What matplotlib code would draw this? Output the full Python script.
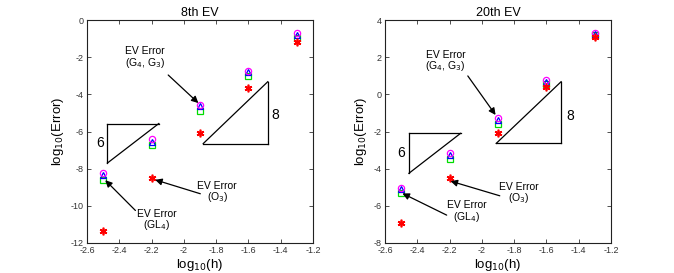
"""
Plot of eigenvalue error convergence (8th and 20th EV), log-log style.
"""

import matplotlib

matplotlib.use("Agg")
import matplotlib.pyplot as plt

plt.rcParams["font.family"] = ["Liberation Sans", "DejaVu Sans"]

# shared mesh sizes
LOG_H = [-2.5, -2.2, -1.9, -1.6, -1.3]

# 8th EV errors
EV8_CIRCLE = [-8.22, -6.40, -4.55, -2.72, -0.70]
EV8_TRIANGLE = [-8.35, -6.55, -4.65, -2.82, -0.80]
EV8_SQUARE = [-8.60, -6.73, -4.89, -3.00, -0.97]
EV8_STAR = [-11.35, -8.52, -6.08, -3.64, -1.21]

# 20th EV errors
EV20_CIRCLE = [-5.03, -3.17, -1.29, 0.77, 3.28]
EV20_TRIANGLE = [-5.10, -3.27, -1.40, 0.68, 3.22]
EV20_SQUARE = [-5.30, -3.50, -1.60, 0.56, 3.18]
EV20_STAR = [-6.94, -4.49, -2.07, 0.38, 3.10]

X_TICKS = [-2.6, -2.4, -2.2, -2.0, -1.8, -1.6, -1.4, -1.2]
X_TICK_LABELS = ["-2.6", "-2.4", "-2.2", "-2", "-1.8", "-1.6", "-1.4", "-1.2"]


def style_axes(ax, ylim, yticks):
    ax.set_xlim(-2.6, -1.2)
    ax.set_ylim(*ylim)
    ax.set_xticks(X_TICKS)
    ax.set_xticklabels(X_TICK_LABELS)
    ax.set_yticks(yticks)
    ax.set_yticklabels([str(t) for t in yticks])
    ax.tick_params(direction="in", length=3, width=0.6, labelsize=6.5,
                   top=True, right=True, colors="#333333", pad=2.5)
    for sp in ax.spines.values():
        sp.set_linewidth(0.8)
        sp.set_color("#222222")
    ax.set_xlabel("log$_{10}$(h)", fontsize=9.5, labelpad=1)
    ax.set_ylabel("log$_{10}$(Error)", fontsize=9.5, labelpad=3)


def draw_points(ax, circ, tri, sq, star):
    ms = 4
    ax.plot(LOG_H, sq, ls="none", marker="s", ms=ms, mfc="none", mec="#00dd00", mew=0.9)
    ax.plot(LOG_H, tri, ls="none", marker="^", ms=ms, mfc="none", mec="blue", mew=0.9)
    ax.plot(LOG_H, circ, ls="none", marker="o", ms=ms + 0.5, mfc="none", mec="magenta", mew=0.9)
    ax.plot(LOG_H, star, ls="none", marker=(6, 2, 0), ms=5.5, mec="red", mew=1.2)


def draw_triangle(ax, x0, x1, y_low, y_high, small):
    kw = dict(color="black", lw=0.9)
    if small:
        # vertical at left, horizontal on top
        ax.plot([x0, x0], [y_low, y_high], **kw)
        ax.plot([x0, x1], [y_high, y_high], **kw)
        ax.plot([x0, x1], [y_low, y_high], **kw)
    else:
        # horizontal at bottom, vertical at right
        ax.plot([x0, x1], [y_low, y_low], **kw)
        ax.plot([x1, x1], [y_low, y_high], **kw)
        ax.plot([x0, x1], [y_low, y_high], **kw)


def annotate(ax, text, xy, xytext, text_pos):
    ax.annotate("", xy=xy, xytext=xytext,
                arrowprops=dict(arrowstyle="-|>", color="black", lw=0.9,
                                mutation_scale=10, shrinkA=0, shrinkB=0))
    ax.text(text_pos[0], text_pos[1], text, fontsize=7.5, ha="center", va="center",
            linespacing=0.95)


fig = plt.figure(figsize=(6.74, 2.73), dpi=100)
ax1 = fig.add_axes([87 / 674, 30 / 273, 226 / 674, 223 / 273])
ax2 = fig.add_axes([385 / 674, 30 / 273, 226 / 674, 223 / 273])

# left: 8th EV
style_axes(ax1, (-12, 0), [-12, -10, -8, -6, -4, -2, 0])
ax1.set_title("8th EV", fontsize=9, pad=3)
draw_points(ax1, EV8_CIRCLE, EV8_TRIANGLE, EV8_SQUARE, EV8_STAR)
draw_triangle(ax1, -1.88, -1.48, -6.65, -3.32, small=False)
ax1.text(-1.435, -5.1, "8", fontsize=10, ha="center", va="center")
draw_triangle(ax1, -2.474, -2.155, -7.7, -5.57, small=True)
ax1.text(-2.52, -6.6, "6", fontsize=10, ha="center", va="center")
annotate(ax1, "EV Error\n(G$_4$, G$_3$)", (-1.91, -4.47), (-2.097, -2.96), (-2.24, -2.04))
annotate(ax1, "EV Error\n(O$_3$)", (-2.178, -8.6), (-1.898, -9.35), (-1.793, -9.28))
annotate(ax1, "EV Error\n(GL$_4$)", (-2.487, -8.62), (-2.30, -10.25), (-2.167, -10.8))

# right: 20th EV
style_axes(ax2, (-8, 4), [-8, -6, -4, -2, 0, 2, 4])
ax2.set_title("20th EV", fontsize=9, pad=3)
draw_points(ax2, EV20_CIRCLE, EV20_TRIANGLE, EV20_SQUARE, EV20_STAR)
draw_triangle(ax2, -1.911, -1.509, -2.64, 0.68, small=False)
ax2.text(-1.452, -1.17, "8", fontsize=10, ha="center", va="center")
draw_triangle(ax2, -2.452, -2.132, -4.25, -2.10, small=True)
ax2.text(-2.5, -3.17, "6", fontsize=10, ha="center", va="center")
annotate(ax2, "EV Error\n(G$_4$, G$_3$)", (-1.915, -1.11), (-2.087, 0.99), (-2.225, 1.76))
annotate(ax2, "EV Error\n(O$_3$)", (-2.194, -4.67), (-1.889, -5.46), (-1.771, -5.33))
annotate(ax2, "EV Error\n(GL$_4$)", (-2.492, -5.33), (-2.218, -6.5), (-2.095, -6.32))

fig.savefig("out.png", dpi=100)
plt.close(fig)
